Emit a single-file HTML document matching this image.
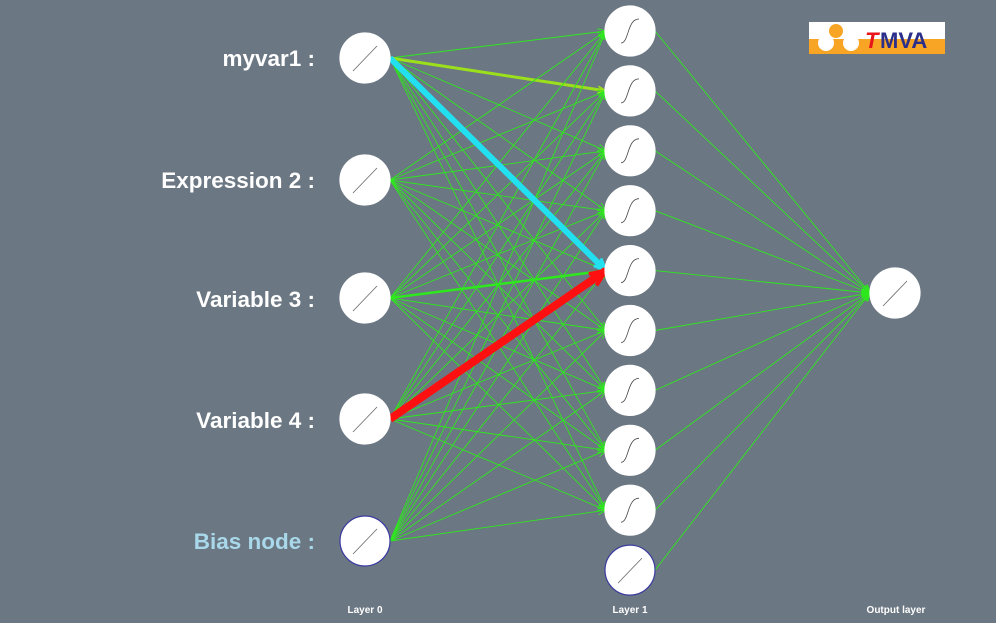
<!DOCTYPE html>
<html><head><style>
body{margin:0;background:#6b7782;}
svg{display:block}
text{font-family:"Liberation Sans",sans-serif;font-weight:bold;}
</style></head><body>
<svg id="s" width="996" height="623" xmlns="http://www.w3.org/2000/svg">
<rect width="996" height="623" fill="#6b7782"/>
<g id="lines"></g>
<g id="nodes"></g>
<g font-size="22.5" fill="#fff" text-anchor="end">
<text x="315" y="66">myvar1 :</text>
<text x="315" y="188">Expression 2 :</text>
<text x="315" y="307">Variable 3 :</text>
<text x="315" y="428">Variable 4 :</text>
<text x="315" y="549" fill="#a8d8ea">Bias node :</text>
</g>
<g font-size="10" fill="#fff" text-anchor="middle">
<text x="365" y="613">Layer 0</text>
<text x="630" y="613">Layer 1</text>
<text x="896" y="613">Output layer</text>
</g>
<g transform="translate(809,22)">
<rect width="136" height="32" fill="#fff"/>
<rect y="17" width="136" height="15" fill="#f8a526"/>
<circle cx="27" cy="9" r="7" fill="#f8a526"/>
<circle cx="17" cy="21" r="8" fill="#fff"/>
<circle cx="42" cy="21" r="8" fill="#fff"/>
<text x="56" y="26" font-size="22" font-style="italic" fill="#e8161b">T</text>
<text x="71" y="26" font-size="22" fill="#2b2f8a">MVA</text>
</g>
</svg>
<script>
var NS="http://www.w3.org/2000/svg";
var L=document.getElementById("lines"),N=document.getElementById("nodes");
function el(t,a,p){var e=document.createElementNS(NS,t);for(var k in a)e.setAttribute(k,a[k]);p.appendChild(e);return e;}
var inY=[58,180,298,419,541];
var hY=[];for(var i=0;i<10;i++)hY.push(31+59.9*i);
function arrow(x1,y1,x2,y2,c,w){
 el("line",{x1:x1,y1:y1,x2:x2,y2:y2,stroke:c,"stroke-width":w},L);
 var a=Math.atan2(y2-y1,x2-x1),s=Math.max(9,w*2.2);
 var p1=[x2-s*Math.cos(a-0.4),y2-s*Math.sin(a-0.4)],p2=[x2-s*Math.cos(a+0.4),y2-s*Math.sin(a+0.4)];
 el("polyline",{points:p1+" "+x2+","+y2+" "+p2,fill:"none",stroke:c,"stroke-width":Math.max(1,w/2)},L);
}
var special=[];
for(var i=0;i<5;i++)for(var j=0;j<9;j++){
 var c="#2ee81e",w=0.9;
 if(i==0&&j==1){c="#9be01a";w=3;}
 if(i==2&&j==4){w=2.5;}
 if(i==0&&j==4){special.push([i,j,"#22e0f0",6]);continue;}
 if(i==3&&j==4){special.push([i,j,"#ff1010",8]);continue;}
 arrow(390,inY[i],606,hY[j],c,w);
}
special.forEach(function(s){arrow(390,inY[s[0]],606,hY[s[1]],s[2],s[3]);});
for(var j=0;j<10;j++)arrow(655,hY[j],870,293,"#2ee81e",0.9);
function node(x,y,bias,sig){
 el("circle",{cx:x,cy:y,r:25,fill:"#fff",stroke:bias?"#3a3aa0":"#fff","stroke-width":1.2},N);
 if(sig)el("path",{d:"M"+(x-9)+","+(y+12)+" C"+(x-1)+","+(y+12)+" "+(x-3)+","+(y-12)+" "+(x+9)+","+(y-12),fill:"none",stroke:"#444","stroke-width":0.8},N);
 else el("line",{x1:x-12,y1:y+13,x2:x+12,y2:y-12,stroke:"#666","stroke-width":0.8},N);
}
inY.forEach(function(y,i){node(365,y,i==4,false);});
hY.forEach(function(y,j){node(630,y,j==9,j<9);});
node(895,293,false,false);
</script>
</body></html>
